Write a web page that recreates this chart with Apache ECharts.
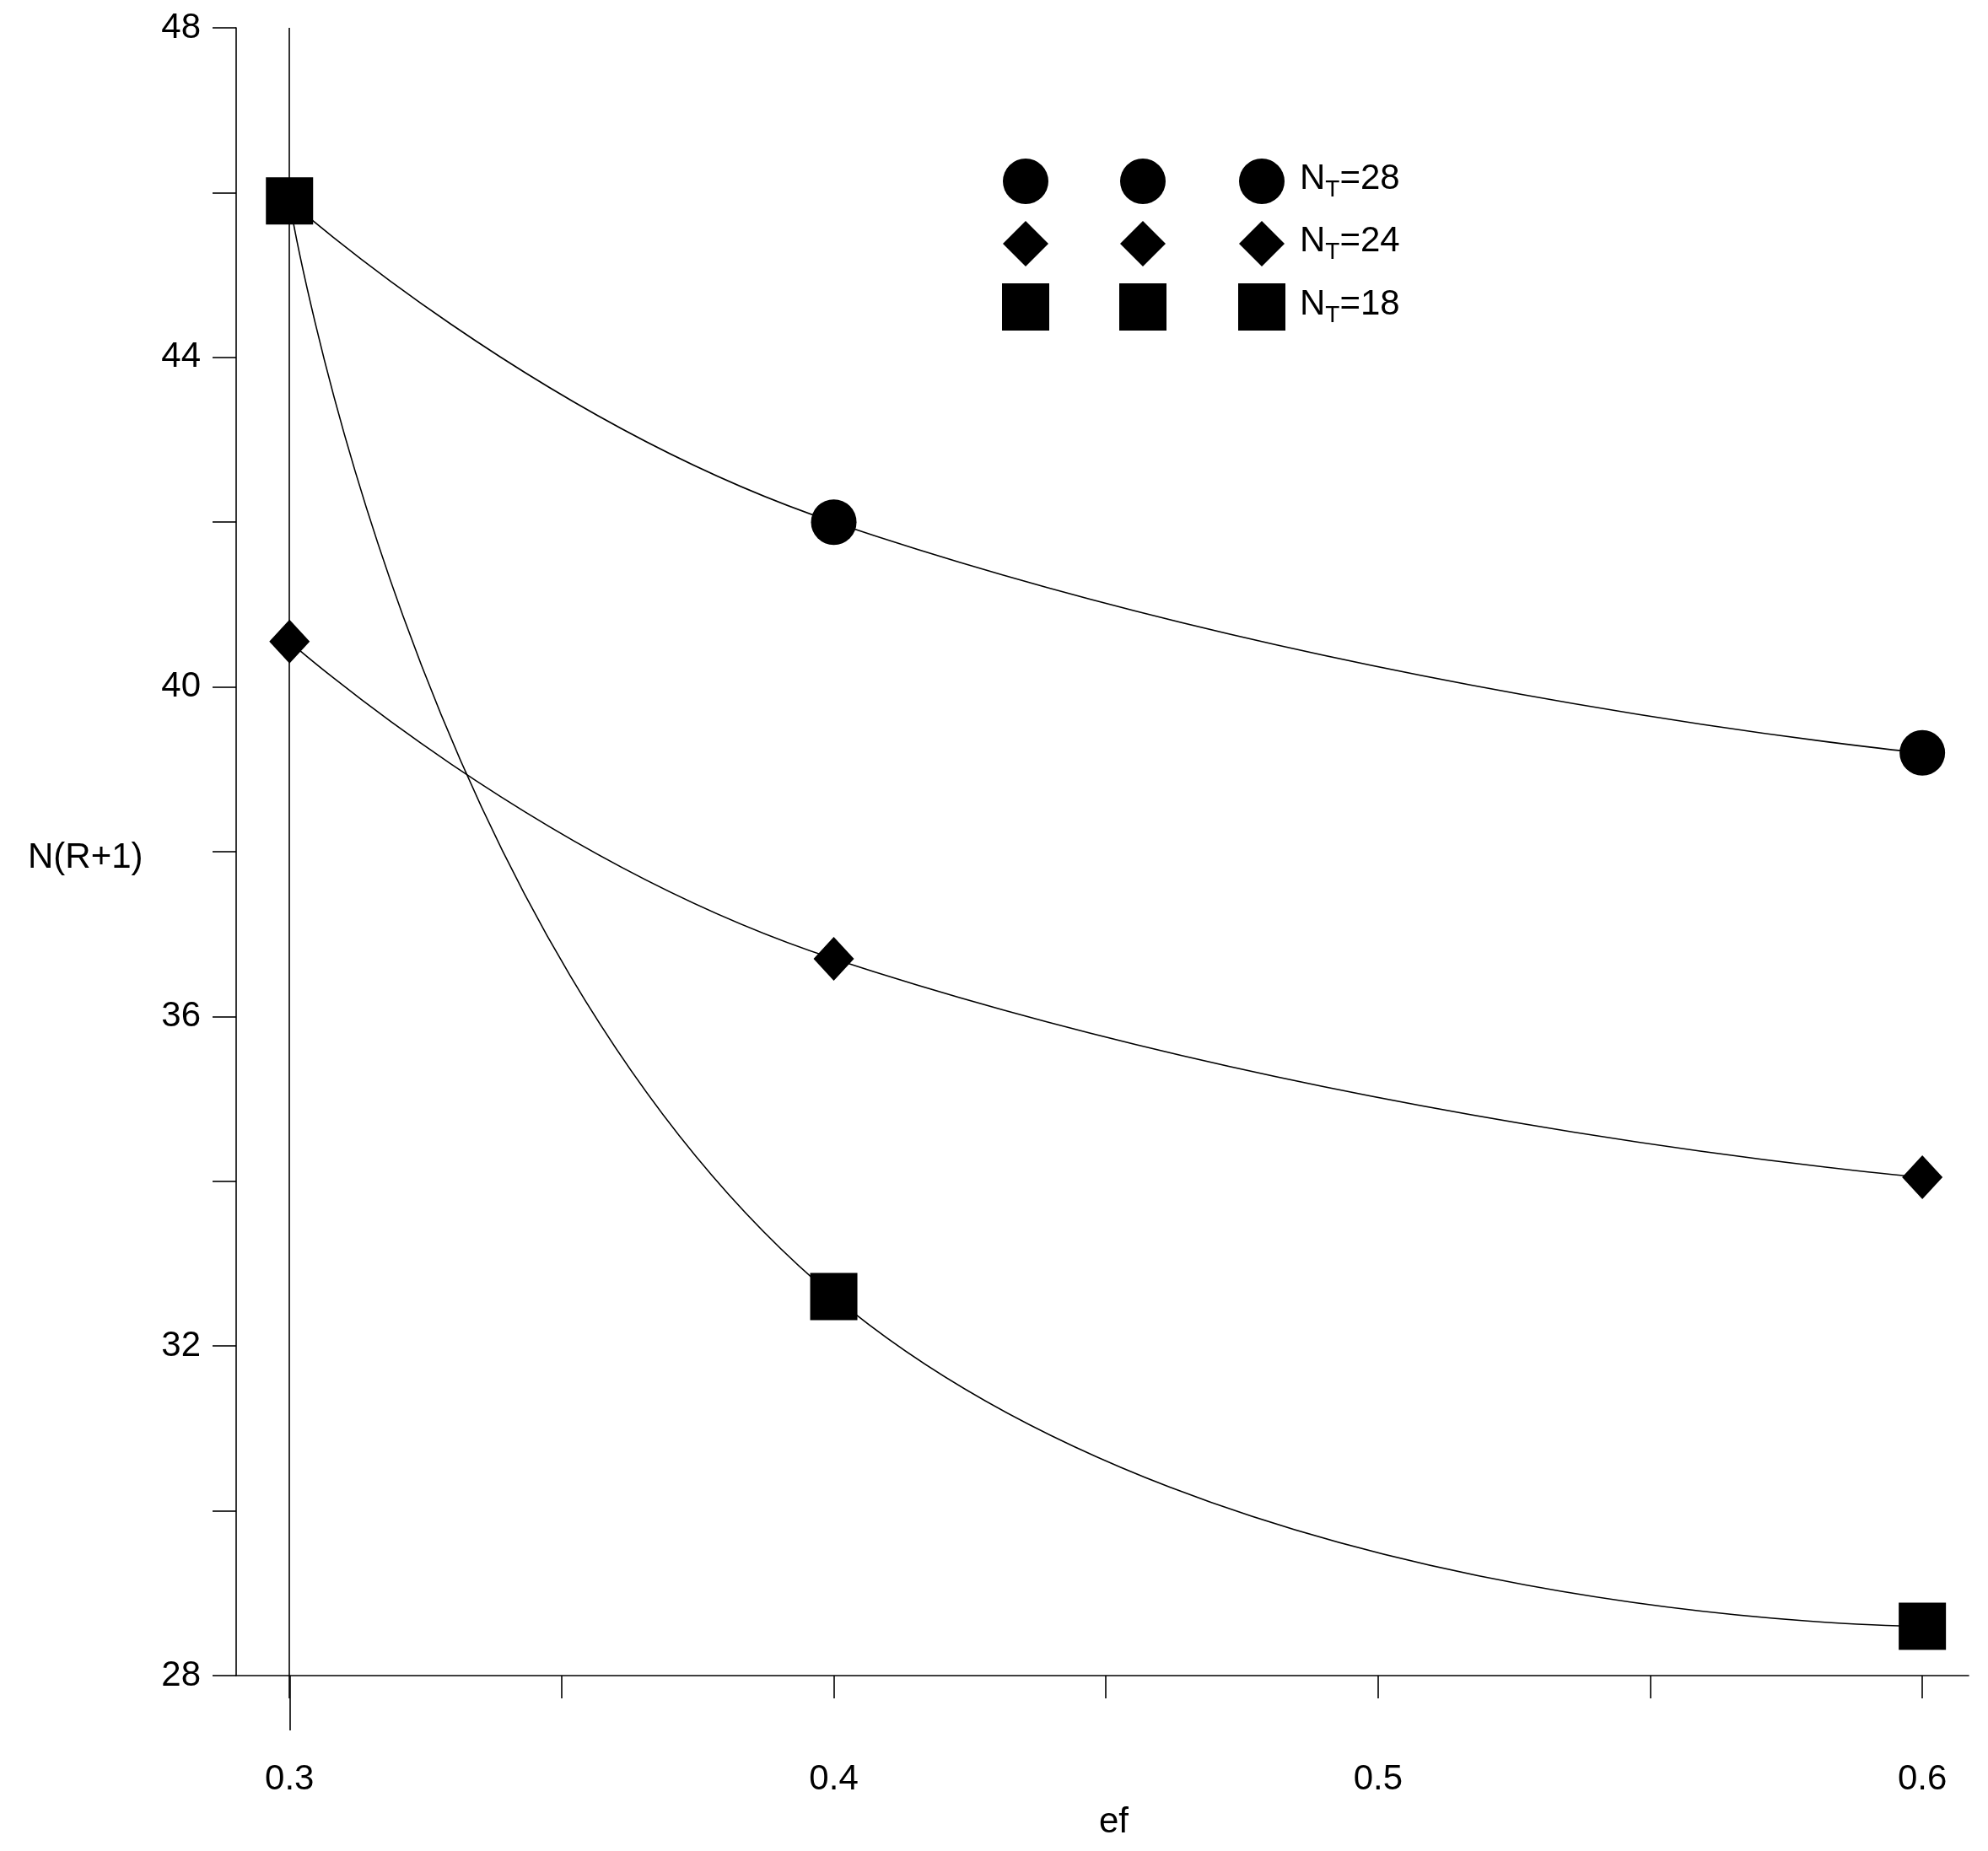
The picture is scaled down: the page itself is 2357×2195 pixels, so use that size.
<!DOCTYPE html><html><head><meta charset="utf-8">
<script src="https://cdn.jsdelivr.net/npm/echarts@6/dist/echarts.min.js"></script>
<style>html,body{margin:0;background:#fff}#c{width:2357px;height:2195px}</style></head><body><div id="c"></div>
<script>
const xValues=[0.3,0.4,0.6];
const nt28=[45.9,42.0,39.2];
const nt24=[40.55,36.7,34.05];
const nt18=[45.9,32.6,28.6];
const xTickLabels=[0.3,0.4,0.5,0.6];
const xTicks=[0.3,0.35,0.4,0.45,0.5,0.55,0.6];
const seriesNames=['28','24','18'];
const F='"Liberation Sans", Arial, sans-serif';
const chart=echarts.init(document.getElementById('c'));
function pts(a){return xValues.map((x,i)=>[x,a[i]]);}
const common={type:'line',smooth:0.5,lineStyle:{color:'#000',width:1.6},itemStyle:{color:'#000'},z:3};
const legendY=[215,289,364],legendX=[1216,1355,1496];
const g2=[];
[0,1,2].forEach(r=>legendX.forEach(x=>{
  const y=legendY[r];
  if(r===0)g2.push({type:'circle',shape:{cx:x,cy:y,r:27},style:{fill:'#000'}});
  if(r===1)g2.push({type:'polygon',shape:{points:[[x,y-27],[x+27,y],[x,y+27],[x-27,y]]},style:{fill:'#000'}});
  if(r===2)g2.push({type:'rect',shape:{x:x-28,y:y-28,width:56,height:56},style:{fill:'#000'}});
}));
[0,1,2].forEach(r=>g2.push({type:'text',left:1541,top:legendY[r]-24,style:{text:'{a|N}{s|T}{a|='+seriesNames[r]+'}',rich:{a:{fontSize:42,fontFamily:F,fill:'#000'},s:{fontSize:28,fontFamily:F,fill:'#000',padding:[26,0,0,0]}}}}));
g2.push({type:'text',left:33,top:996,style:{text:'N(R+1)',fontSize:42,fontFamily:F,fill:'#000'}});
g2.push({type:'text',left:1303,top:2140,style:{text:'ef',fontSize:42,fontFamily:F,fill:'#000'}});
g2.push({type:'line',shape:{x1:344,y1:1987,x2:344,y2:2052},style:{stroke:'#000',lineWidth:1.6}});
chart.setOption({
  animation:false,
  grid:{left:280,top:33,right:23,bottom:208},
  xAxis:{type:'value',min:0.2902,max:0.6085,splitLine:{show:false},
    axisLine:{lineStyle:{color:'#000',width:1.6}},
    axisTick:{customValues:xTicks,length:27,lineStyle:{color:'#000',width:1.6}},
    axisLabel:{customValues:xTickLabels,fontSize:42,fontFamily:F,color:'#000',margin:102,formatter:v=>v.toFixed(1)}},
  yAxis:{type:'value',min:28,max:48,interval:2,splitLine:{show:false},
    axisLine:{show:true,lineStyle:{color:'#000',width:1.6}},
    axisTick:{length:28,lineStyle:{color:'#000',width:1.6}},
    axisLabel:{fontSize:42,fontFamily:F,color:'#000',margin:42,formatter:v=>v%4===0?String(v):''}},
  series:[
    {...common,name:'NT=28',data:pts(nt28),symbol:'circle',symbolSize:54,
     markLine:{silent:true,symbol:'none',label:{show:false},lineStyle:{color:'#000',width:1.6,type:'solid'},data:[{xAxis:0.3}]}},
    {...common,name:'NT=24',data:pts(nt24),symbol:'diamond',symbolSize:[48,52]},
    {...common,name:'NT=18',data:pts(nt18),symbol:'rect',symbolSize:56}
  ],
  graphic:g2
});
</script></body></html>
